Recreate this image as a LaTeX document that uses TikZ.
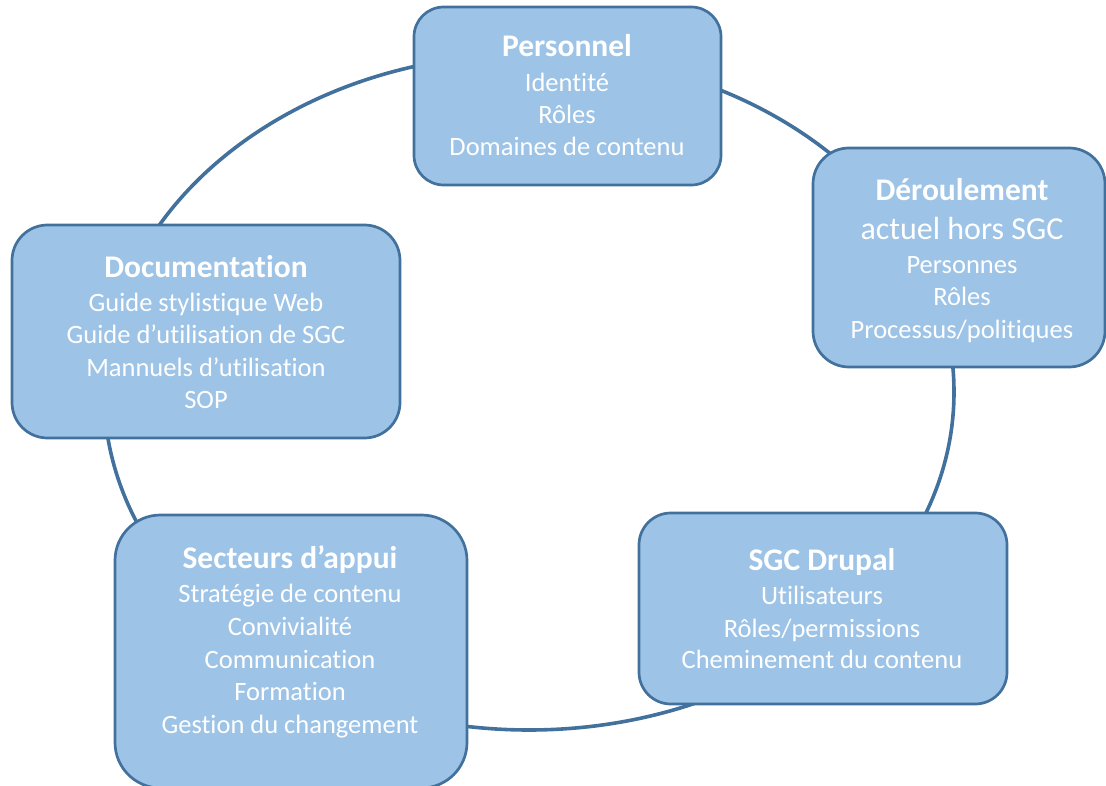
\documentclass[tikz,border=0pt]{standalone}
\usepackage{fontspec}
\setmainfont{Carlito}[RawFeature={-liga;-clig;-calt;-dlig}]
\usetikzlibrary{calc}
\definecolor{boxfill}{HTML}{9DC3E6}
\definecolor{boxline}{HTML}{41719C}
\begin{document}
\begin{tikzpicture}[x=1pt,y=-1pt,
  cbox/.style={draw=boxline, fill=boxfill, line width=2.7pt, inner sep=0pt},
  ttl/.style={text=white, font=\fontsize{31.5}{38}\selectfont\bfseries, anchor=base, inner sep=0pt},
  body/.style={text=white, font=\fontsize{26.5}{32}\selectfont, anchor=base, inner sep=0pt},
  big/.style={text=white, font=\fontsize{32}{38}\selectfont, anchor=base, inner sep=0pt},
  ring/.style={draw=boxline, line width=3.6pt}]
\useasboundingbox (0,0) rectangle (1106,786);
\coordinate (ctr) at (529,392);
\draw[ring] (ctr) ellipse [x radius=425, y radius=338];

% boxes
\node[cbox, minimum width=307pt, minimum height=178pt, rounded corners=29.7pt] (pers) at (567.5,96) {};
\node[cbox, minimum width=292pt, minimum height=219pt, rounded corners=36pt] (der) at (959,257.5) {};
\node[cbox, minimum width=388pt, minimum height=213pt, rounded corners=35.5pt] (doc) at (206,331.5) {};
\node[cbox, minimum width=352pt, minimum height=273pt, rounded corners=45.5pt] (sec) at (291,651.5) {};
\node[cbox, minimum width=368pt, minimum height=191pt, rounded corners=31.8pt] (sgc) at (823,608.5) {};

% Personnel
\node[ttl]  (pers-t) at (567,57)  {Personnel};
\node[body] (pers-1) at (567,92)  {Identité};
\node[body] (pers-2) at (567,124) {Rôles};
\node[body] (pers-3) at (567,156) {Domaines de contenu};

% Déroulement
\node[ttl]  (der-t) at (962,201) {Déroulement};
\node[big]  (der-0) at (962,240) {actuel hors SGC};
\node[body] (der-1) at (962,274) {Personnes};
\node[body] (der-2) at (962,306) {Rôles};
\node[body] (der-3) at (962,338) {Processus/politiques};

% Documentation
\node[ttl]  (doc-t) at (206,278) {Documentation};
\node[body] (doc-1) at (206,312) {Guide stylistique Web};
\node[body] (doc-2) at (206,344) {Guide d’utilisation de SGC};
\node[body] (doc-3) at (206,376) {Mannuels d’utilisation};
\node[body] (doc-4) at (206,408) {SOP};

% Secteurs d'appui
\node[ttl]  (sec-t) at (290,568) {Secteurs d’appui};
\node[body] (sec-1) at (290,602) {Stratégie de contenu};
\node[body] (sec-2) at (290,635) {Convivialité};
\node[body] (sec-3) at (290,668) {Communication};
\node[body] (sec-4) at (290,700) {Formation};
\node[body] (sec-5) at (290,733) {Gestion du changement};

% SGC Drupal
\node[ttl]  (sgc-t) at (822,570) {SGC Drupal};
\node[body] (sgc-1) at (822,604) {Utilisateurs};
\node[body] (sgc-2) at (822,637) {Rôles/permissions};
\node[body] (sgc-3) at (822,668) {Cheminement du contenu};
\end{tikzpicture}
\end{document}
